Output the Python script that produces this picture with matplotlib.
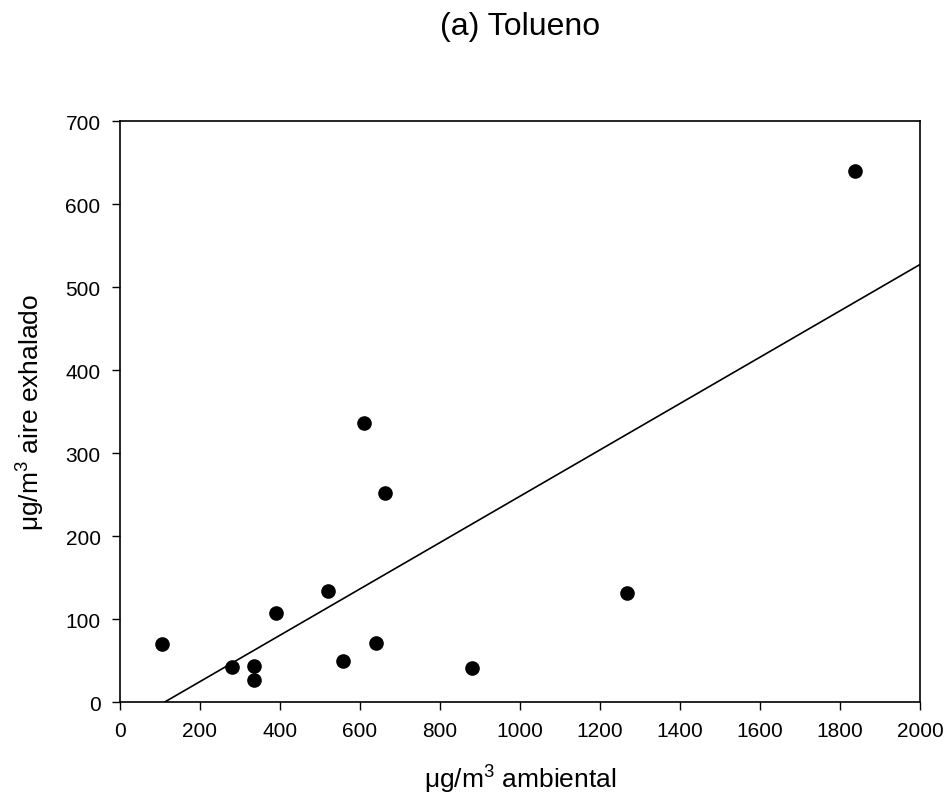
import numpy as np
import matplotlib
matplotlib.use('Agg')
import matplotlib.pyplot as plt

plt.rcParams['font.family'] = ['Liberation Sans', 'DejaVu Sans']
plt.rcParams['mathtext.fontset'] = 'custom'
plt.rcParams['mathtext.rm'] = 'Liberation Sans'
plt.rcParams['mathtext.it'] = 'Liberation Sans:italic'

# ambient vs exhaled toluene (ug/m3)
ambiental = [105, 281, 336, 334, 389, 521, 610, 663, 557, 639, 881, 1267, 1838]
exhalado = [70, 42, 44, 27, 107, 134, 336, 252, 50, 71, 41, 131, 640]

x_ticks = list(range(0, 2001, 200))
y_ticks = list(range(0, 701, 100))

slope, icpt = np.polyfit(ambiental, exhalado, 1)

fig = plt.figure(figsize=(9.49, 8.03), dpi=100)
ax = fig.add_axes([0.1264, 0.1245, 0.843, 0.7235])

ax.plot(ambiental, exhalado, 'o', color='black', ms=9.5, zorder=3)
xl = np.array([0, 2000])
ax.plot(xl, slope * xl + icpt, color='black', lw=1.2)

ax.set_xlim(0, 2000)
ax.set_ylim(0, 700)
ax.set_xticks(x_ticks)
ax.set_yticks(y_ticks)
ax.tick_params(direction='out', length=6, width=1, labelsize=15, pad=8)
for s in ax.spines.values():
    s.set_linewidth(1.2)

ax.set_xlabel('μg/m$^3$ ambiental', fontsize=19, labelpad=16)
ax.set_ylabel('μg/m$^3$ aire exhalado', fontsize=19, labelpad=13)
fig.text(0.548, 1 - 27 / 803, '(a) Tolueno', fontsize=23, ha='center', va='center')

fig.savefig('out.png', dpi=100)
